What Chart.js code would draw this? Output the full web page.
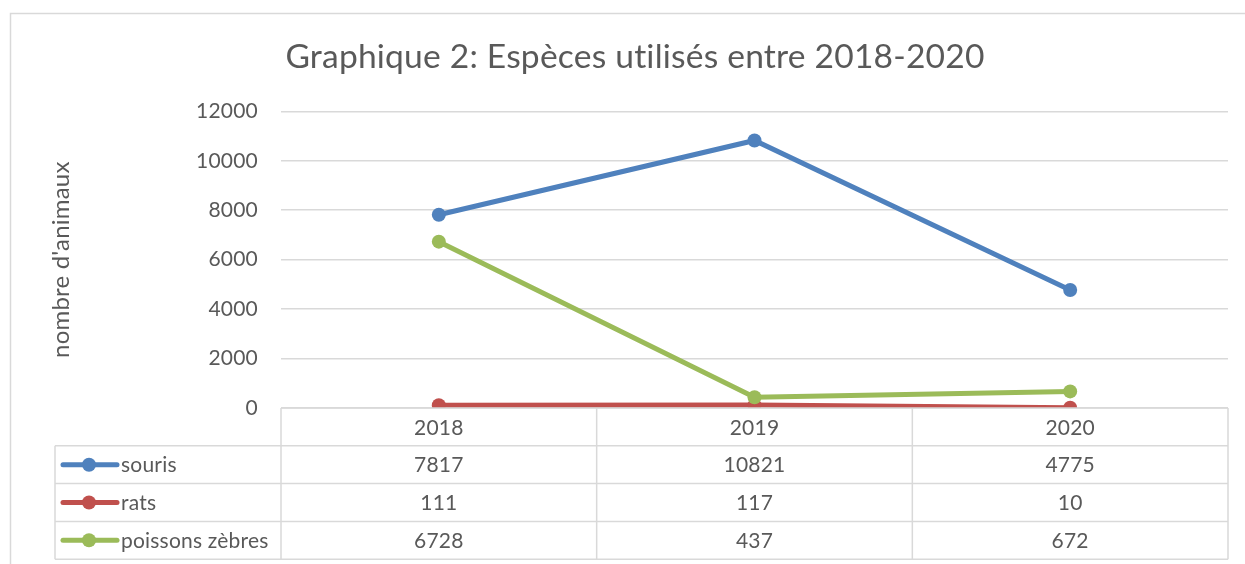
<!DOCTYPE html>
<html>
<head>
<meta charset="utf-8">
<script src="https://cdn.jsdelivr.net/npm/chart.js@4"></script>
<style>
html, body { margin: 0; padding: 0; background: #fff; }
#wrap { width: 1245px; height: 564px; position: relative; }
</style>
</head>
<body>
<div id="wrap"><canvas id="chart" width="1245" height="564"></canvas></div>
<script>
// data
const years = ['2018', '2019', '2020'];
const souris = [7817, 10821, 4775];
const rats = [111, 117, 10];
const poissons = [6728, 437, 672];
const seriesNames = ['souris', 'rats', 'poissons zèbres'];
const seriesColors = ['#4f81bd', '#c0504d', '#9bbb59'];
const yMin = 0, yMax = 12000, yStep = 2000;

const FONT = 'Lato, "Open Sans", sans-serif';
const TEXT = '#595959';
const GRID = '#d9d9d9';

// outer frame of the chart object
const framePlugin = {
    id: 'frame',
    beforeDraw: (chart) => {
        const ctx = chart.ctx;
        // a tiny letter spacing keeps Lato from joining "ti" into a ligature
        ctx.letterSpacing = '0.2px';
        ctx.save();
        ctx.fillStyle = '#fff';
        ctx.fillRect(0, 0, chart.width, chart.height);
        ctx.strokeStyle = GRID;
        ctx.lineWidth = 1.5;
        ctx.strokeRect(10.5, 13.5, chart.width + 20, chart.height + 20);
        ctx.restore();
    }
};

// data table below the plot, columns follow the x scale
const dataTablePlugin = {
    id: 'dataTable',
    afterDraw: (chart) => {
        const { ctx, chartArea, scales } = chart;
        const x = scales.x;
        const left = chartArea.left, right = chartArea.right, top = chartArea.bottom;
        const rowH = 37.8;
        const tableLeft = 55;
        const series = [souris, rats, poissons];

        const bounds = [left];
        for (let i = 0; i < years.length - 1; i++) {
            bounds.push((x.getPixelForValue(i) + x.getPixelForValue(i + 1)) / 2);
        }
        bounds.push(right);

        const line = (x1, y1, x2, y2) => {
            ctx.beginPath();
            ctx.moveTo(x1, y1);
            ctx.lineTo(x2, y2);
            ctx.stroke();
        };

        ctx.save();
        ctx.strokeStyle = GRID;
        ctx.lineWidth = 1.5;
        line(left, top, right, top);
        for (let r = 1; r <= 4; r++) {
            line(tableLeft, top + r * rowH, right, top + r * rowH);
        }
        bounds.forEach(b => line(b, top, b, top + 4 * rowH));
        line(tableLeft, top + rowH, tableLeft, top + 4 * rowH);

        ctx.fillStyle = TEXT;
        ctx.font = '21px ' + FONT;
        ctx.textAlign = 'center';
        ctx.textBaseline = 'middle';
        years.forEach((yr, i) => {
            ctx.fillText(yr, x.getPixelForValue(i), top + rowH / 2 + 1);
        });

        series.forEach((vals, s) => {
            const cy = top + rowH * (s + 1) + rowH / 2 + 1;
            vals.forEach((v, i) => {
                ctx.fillStyle = TEXT;
                ctx.textAlign = 'center';
                ctx.fillText(String(v), x.getPixelForValue(i), cy);
            });
            // legend key
            ctx.strokeStyle = seriesColors[s];
            ctx.lineWidth = 5;
            ctx.lineCap = 'round';
            line(63, cy - 1, 117, cy - 1);
            ctx.fillStyle = seriesColors[s];
            ctx.beginPath();
            ctx.arc(89, cy - 1, 7, 0, Math.PI * 2);
            ctx.fill();
            ctx.fillStyle = TEXT;
            ctx.textAlign = 'left';
            ctx.fillText(seriesNames[s], 121, cy);
        });
        ctx.restore();
    }
};

const makeSet = (label, data, color, order) => ({
    label: label,
    data: data,
    borderColor: color,
    backgroundColor: color,
    borderWidth: 5,
    pointRadius: 7,
    pointBorderWidth: 0,
    pointBackgroundColor: color,
    tension: 0,
    order: order
});

new Chart(document.getElementById('chart'), {
    type: 'line',
    data: {
        labels: years,
        datasets: [
            makeSet(seriesNames[0], souris, seriesColors[0], 3),
            makeSet(seriesNames[1], rats, seriesColors[1], 2),
            makeSet(seriesNames[2], poissons, seriesColors[2], 1)
        ]
    },
    options: {
        responsive: false,
        animation: false,
        devicePixelRatio: 1,
        layout: { padding: { left: 42, right: 17, top: 0, bottom: 156 } },
        plugins: {
            legend: { display: false },
            tooltip: { enabled: false },
            title: {
                display: true,
                text: 'Graphique 2: Espèces utilisés entre 2018-2020',
                color: TEXT,
                font: { family: FONT, size: 33.6, weight: 'normal' },
                padding: { top: 37, bottom: 34 }
            }
        },
        scales: {
            x: {
                type: 'category',
                offset: true,
                display: false
            },
            y: {
                min: yMin,
                max: yMax,
                border: { display: false },
                grid: { color: GRID, lineWidth: 1.5, drawTicks: false },
                ticks: {
                    stepSize: yStep,
                    color: TEXT,
                    padding: 23,
                    font: { family: FONT, size: 21 },
                    callback: (v) => String(v)
                },
                title: {
                    display: true,
                    text: "nombre d'animaux",
                    color: TEXT,
                    font: { family: FONT, size: 24 },
                    padding: { top: 5, bottom: 0 }
                },
                afterFit: (scale) => { scale.width = 239; }
            }
        }
    },
    plugins: [framePlugin, dataTablePlugin]
});
</script>
</body>
</html>
